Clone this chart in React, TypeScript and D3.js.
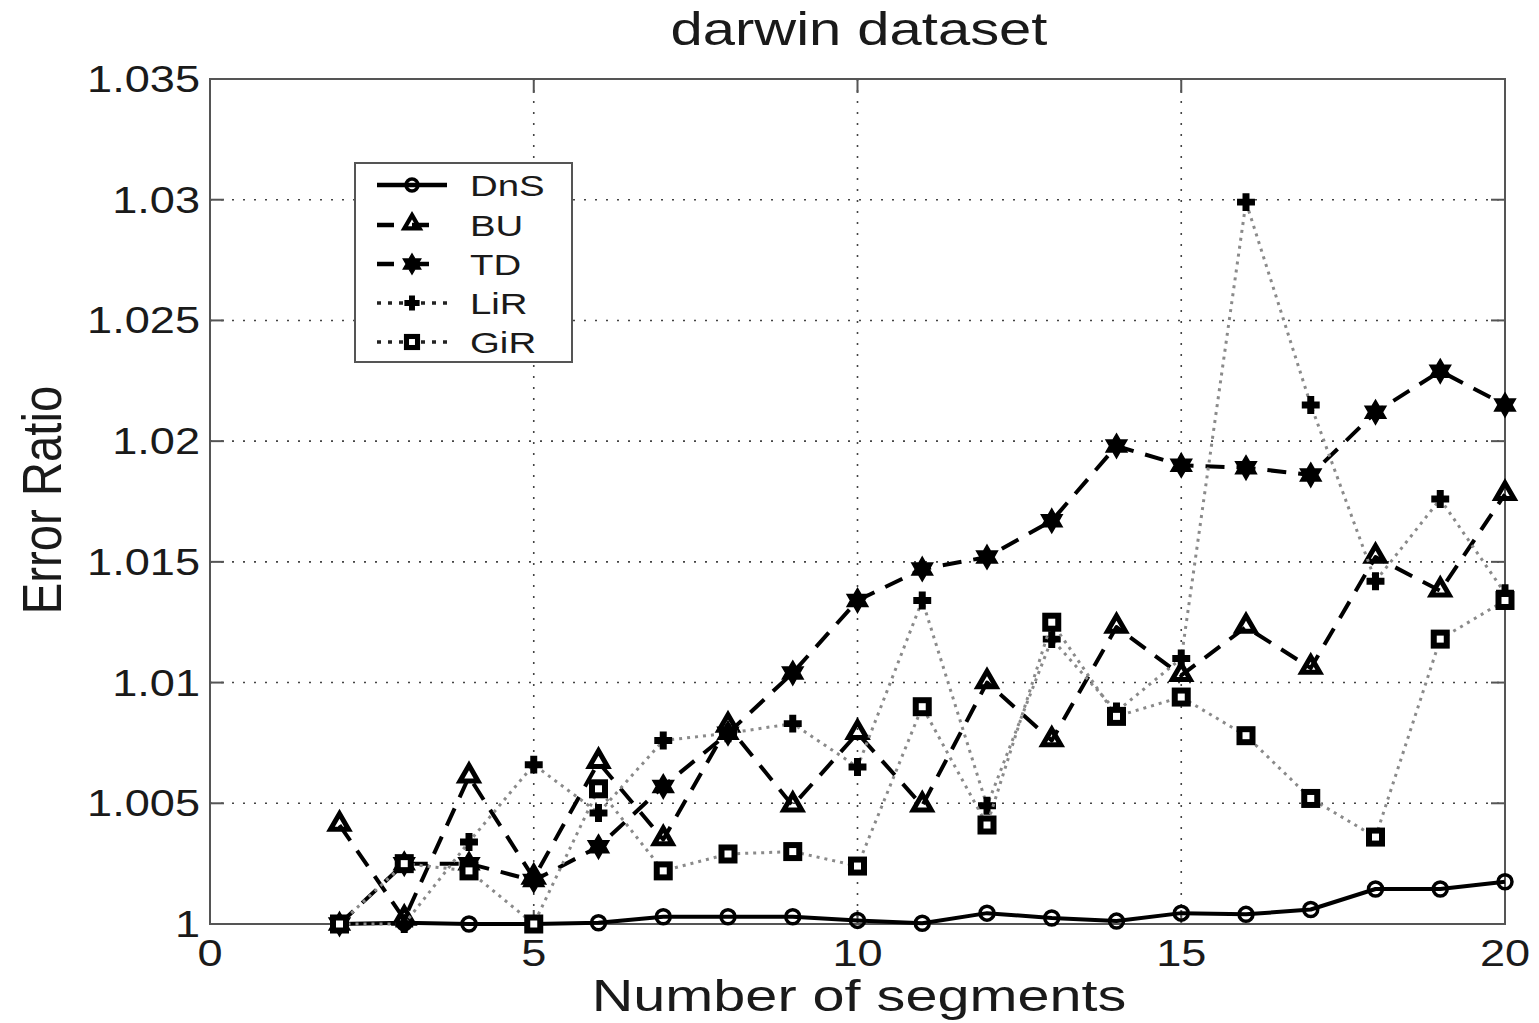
import React from 'react';
import * as d3 from 'd3';

// number of segments
const segments = [2, 3, 4, 5, 6, 7, 8, 9, 10, 11, 12, 13, 14, 15, 16, 17, 18, 19, 20];

const dnsValues = [1.0, 1.00005, 1.0, 1.0, 1.00005, 1.0003, 1.0003, 1.0003, 1.00015, 1.00003, 1.00045, 1.00025, 1.00012, 1.00045, 1.0004, 1.0006, 1.00145, 1.00145, 1.00175];
const buValues = [1.0041, 1.0002, 1.0061, 1.0019, 1.0067, 1.0035, 1.0082, 1.0049, 1.0079, 1.0049, 1.01, 1.0076, 1.0123, 1.0103, 1.0123, 1.0106, 1.0152, 1.0138, 1.0178];
const tdValues = [1.0, 1.0025, 1.0025, 1.0018, 1.0032, 1.0057, 1.0079, 1.0104, 1.0134, 1.0147, 1.0152, 1.0167, 1.0198, 1.019, 1.0189, 1.0186, 1.0212, 1.0229, 1.0215];
const lirValues = [1.0, 1.0, 1.0034, 1.0066, 1.0046, 1.0076, 1.0079, 1.0083, 1.0065, 1.0134, 1.0049, 1.0118, 1.0088, 1.011, 1.0299, 1.0215, 1.0142, 1.0176, 1.0137];
const girValues = [1.0, 1.0025, 1.0022, 1.0, 1.0056, 1.0022, 1.0029, 1.003, 1.0024, 1.009, 1.0041, 1.0125, 1.0086, 1.0094, 1.0078, 1.0052, 1.0036, 1.0118, 1.0134];

const seriesNames = ['DnS', 'BU', 'TD', 'LiR', 'GiR'];

const xTicks = [0, 5, 10, 15, 20];
const yTicks = [1, 1.005, 1.01, 1.015, 1.02, 1.025, 1.03, 1.035];
const yTickLabels = ['1', '1.005', '1.01', '1.015', '1.02', '1.025', '1.03', '1.035'];

const FONT = '"Liberation Sans", Arial, sans-serif';

const W = 1539, H = 1023;
const left = 210, right = 1505, top = 79, bottom = 924;

const x = d3.scaleLinear().domain([0, 20]).range([left, right]);
const y = d3.scaleLinear().domain([1, 1.035]).range([bottom, top]);

function hexagram(r: number) {
    let pts: string[] = [];
    for (let i = 0; i < 12; i++) {
        const a = -Math.PI / 2 + i * Math.PI / 6;
        const rr = i % 2 == 0 ? r : r / Math.sqrt(3);
        pts.push((rr * Math.cos(a)).toFixed(2) + ',' + (rr * Math.sin(a)).toFixed(2));
    }
    return 'M' + pts.join('L') + 'Z';
}

const styles: any = {
    DnS: { stroke: '#000', width: 4, dash: null },
    BU: { stroke: '#000', width: 4, dash: '19,12' },
    TD: { stroke: '#000', width: 4, dash: '19,12' },
    LiR: { stroke: '#8a8a8a', width: 3, dash: '3,5' },
    GiR: { stroke: '#8a8a8a', width: 3, dash: '3,5' },
};

function Marker({ name, cx, cy, k = 1 }: { name: string, cx: number, cy: number, k?: number }) {
    const t = `translate(${cx},${cy}) scale(${k})`;
    if (name == 'DnS') {
        return <circle cx={cx} cy={cy} r={7 * k} fill="none" stroke="#000" strokeWidth={3.5} />;
    }
    if (name == 'BU') {
        return <path transform={`translate(${cx},${cy - 1}) scale(${k})`} d={d3.symbol().type(d3.symbolTriangle).size(140)() || ''}
            fill="none" stroke="#000" strokeWidth={5} strokeLinejoin="miter" />;
    }
    if (name == 'TD') {
        return <path transform={t} d={hexagram(12)} fill="#000" stroke="#000" strokeWidth={1.5} />;
    }
    if (name == 'LiR') {
        return <path transform={t} d={d3.symbol().type(d3.symbolCross).size(150)() || ''} fill="#000" stroke="#000" strokeWidth={1.5} />;
    }
    return <rect transform={t} x={-6.5} y={-6.5} width={13} height={13} fill="#fff" stroke="#000" strokeWidth={6} />;
}

function Txt({ x, y, size, anchor, sx, children }: any) {
    return (
        <text transform={`translate(${x},${y}) scale(${sx},1)`} fontSize={size} textAnchor={anchor}
            fontFamily={FONT} fill="#1a1a1a">{children}</text>
    );
}

export default function App() {
    const allValues = [dnsValues, buValues, tdValues, lirValues, girValues];
    const line = d3.line<number>()
        .x((d, i) => x(segments[i]))
        .y(d => y(d));

    const legendX = 355, legendY = 163, legendW = 217, legendH = 199;
    const legendRows = [185, 225, 264, 303, 342];

    return (
        <svg width={W} height={H} style={{ position: 'absolute', left: 0, top: 0, background: '#fff' }}>
            <rect x={0} y={0} width={W} height={H} fill="#fff" />

            {/* grid */}
            {xTicks.slice(1, -1).map(t => (
                <line key={'gx' + t} x1={x(t)} x2={x(t)} y1={top} y2={bottom} stroke="#444" strokeWidth={1.6} strokeDasharray="2,9" />
            ))}
            {yTicks.slice(1, -1).map(t => (
                <line key={'gy' + t} x1={left} x2={right} y1={y(t)} y2={y(t)} stroke="#444" strokeWidth={1.6} strokeDasharray="2,9" />
            ))}

            {/* frame and ticks */}
            <rect x={left} y={top} width={right - left} height={bottom - top} fill="none" stroke="#555" strokeWidth={2} />
            {xTicks.map(t => (
                <g key={'tx' + t}>
                    <line x1={x(t)} x2={x(t)} y1={bottom} y2={bottom - 14} stroke="#555" strokeWidth={2} />
                    <line x1={x(t)} x2={x(t)} y1={top} y2={top + 14} stroke="#555" strokeWidth={2} />
                    <Txt x={x(t)} y={966} size={37} anchor="middle" sx={1.22}>{t}</Txt>
                </g>
            ))}
            {yTicks.map((t, i) => (
                <g key={'ty' + t}>
                    <line x1={left} x2={left + 14} y1={y(t)} y2={y(t)} stroke="#555" strokeWidth={2} />
                    <line x1={right} x2={right - 14} y1={y(t)} y2={y(t)} stroke="#555" strokeWidth={2} />
                    <Txt x={200} y={y(t) + 13} size={37} anchor="end" sx={1.22}>{yTickLabels[i]}</Txt>
                </g>
            ))}

            {/* series */}
            {allValues.map((vals, si) => {
                const name = seriesNames[si];
                const st = styles[name];
                return (
                    <g key={name}>
                        <path d={line(vals) || ''} fill="none" stroke={st.stroke} strokeWidth={st.width}
                            strokeDasharray={st.dash || undefined} strokeLinejoin="round" />
                        {vals.map((v, i) => <Marker key={i} name={name} cx={x(segments[i])} cy={y(v)} />)}
                    </g>
                );
            })}

            {/* legend */}
            <rect x={legendX} y={legendY} width={legendW} height={legendH} fill="#fff" stroke="#555" strokeWidth={2} />
            {seriesNames.map((name, i) => {
                const st = styles[name];
                const ly = legendRows[i];
                const dash = name == 'BU' || name == 'TD' ? '17,18' : name == 'DnS' ? undefined : '4,7';
                return (
                    <g key={'lg' + name}>
                        <line x1={377} x2={447} y1={ly} y2={ly} stroke={name == 'LiR' || name == 'GiR' ? '#222' : st.stroke}
                            strokeWidth={st.width + 0.5} strokeDasharray={dash} />
                        <Marker name={name} cx={412} cy={ly} k={0.85} />
                        <Txt x={470} y={ly + 11} size={30} anchor="start" sx={1.28}>{name}</Txt>
                    </g>
                );
            })}

            {/* titles */}
            <Txt x={859} y={45} size={46} anchor="middle" sx={1.26}>darwin dataset</Txt>
            <Txt x={859} y={1011} size={45} anchor="middle" sx={1.28}>Number of segments</Txt>
            <text transform="translate(61,500) rotate(-90) scale(1.05,1.25)" fontSize={45} textAnchor="middle"
                fontFamily={FONT} fill="#1a1a1a">Error Ratio</text>
        </svg>
    );
}
